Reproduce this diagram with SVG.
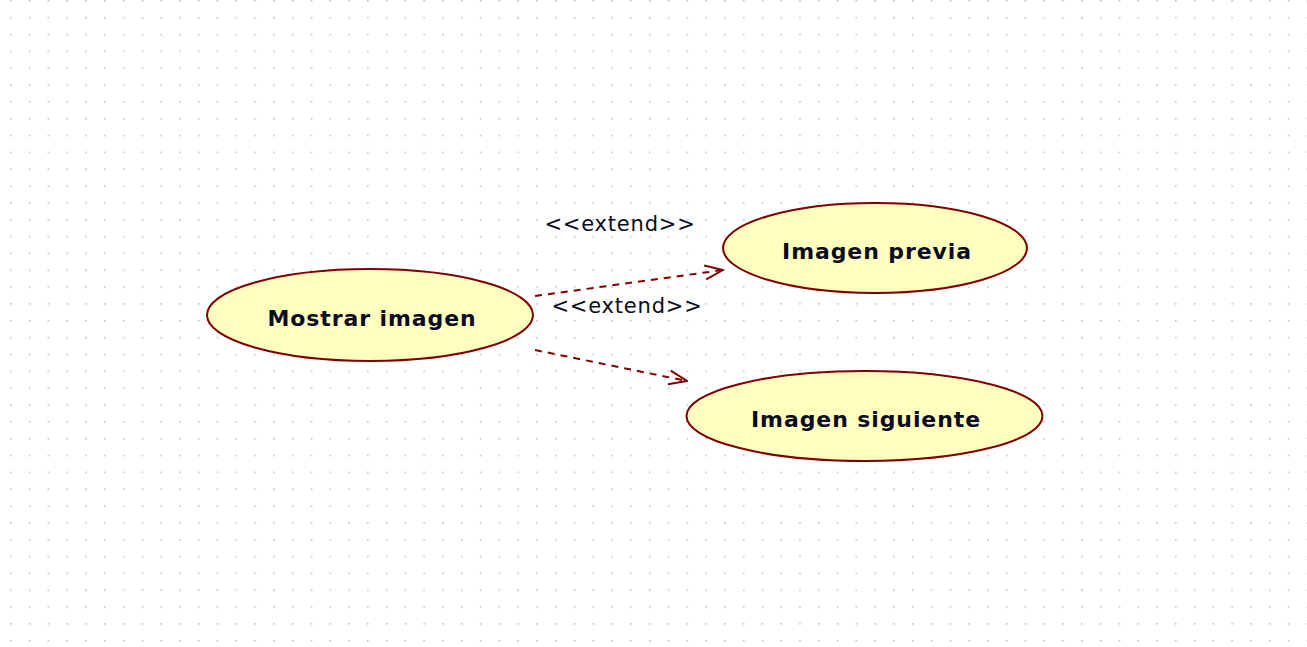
<svg xmlns="http://www.w3.org/2000/svg" width="1307" height="647" viewBox="0 0 1307 647">
<defs>
<pattern id="grid" x="10" y="0" width="18.79" height="16.84" patternUnits="userSpaceOnUse">
<rect x="0" y="0" width="1.6" height="1.6" fill="#c0c0c0"/>
</pattern>
<marker id="open" viewBox="0 0 20 20" refX="19" refY="10" markerWidth="20" markerHeight="20" markerUnits="userSpaceOnUse" orient="auto">
<path d="M1,3 L19,10 L1,17" fill="none" stroke="#800000" stroke-width="2"/>
</marker>
<style>
.uc{fill:#ffffc0;stroke:#800000;stroke-width:2}
.lbl{font-family:"DejaVu Sans",Verdana,sans-serif;font-weight:bold;font-size:22px;letter-spacing:0.9px;fill:#0a0a20;text-anchor:middle}
.st{font-family:"DejaVu Sans",Verdana,sans-serif;font-size:21px;letter-spacing:0.8px;fill:#0a0a20;text-anchor:middle}
.dep{fill:none;stroke:#800000;stroke-width:2;stroke-dasharray:7,6;marker-end:url(#open)}
</style>
</defs>
<rect width="1307" height="647" fill="#ffffff"/>
<rect width="1307" height="647" fill="url(#grid)"/>
<g id="connectors">
<path class="dep" d="M535,296 L723,270"/>
<path class="dep" d="M535,350 L687,381"/>
<text class="st" x="620" y="231">&lt;&lt;extend&gt;&gt;</text>
<text class="st" x="627" y="313">&lt;&lt;extend&gt;&gt;</text>
</g>
<g id="mostrar">
<ellipse class="uc" cx="370" cy="315" rx="163" ry="46"/>
<text class="lbl" x="372" y="326">Mostrar imagen</text>
</g>
<g id="previa">
<ellipse class="uc" cx="875" cy="248" rx="152" ry="45"/>
<text class="lbl" x="877" y="259">Imagen previa</text>
</g>
<g id="siguiente">
<ellipse class="uc" cx="864.5" cy="416" rx="178" ry="45"/>
<text class="lbl" x="866" y="427">Imagen siguiente</text>
</g>
</svg>
